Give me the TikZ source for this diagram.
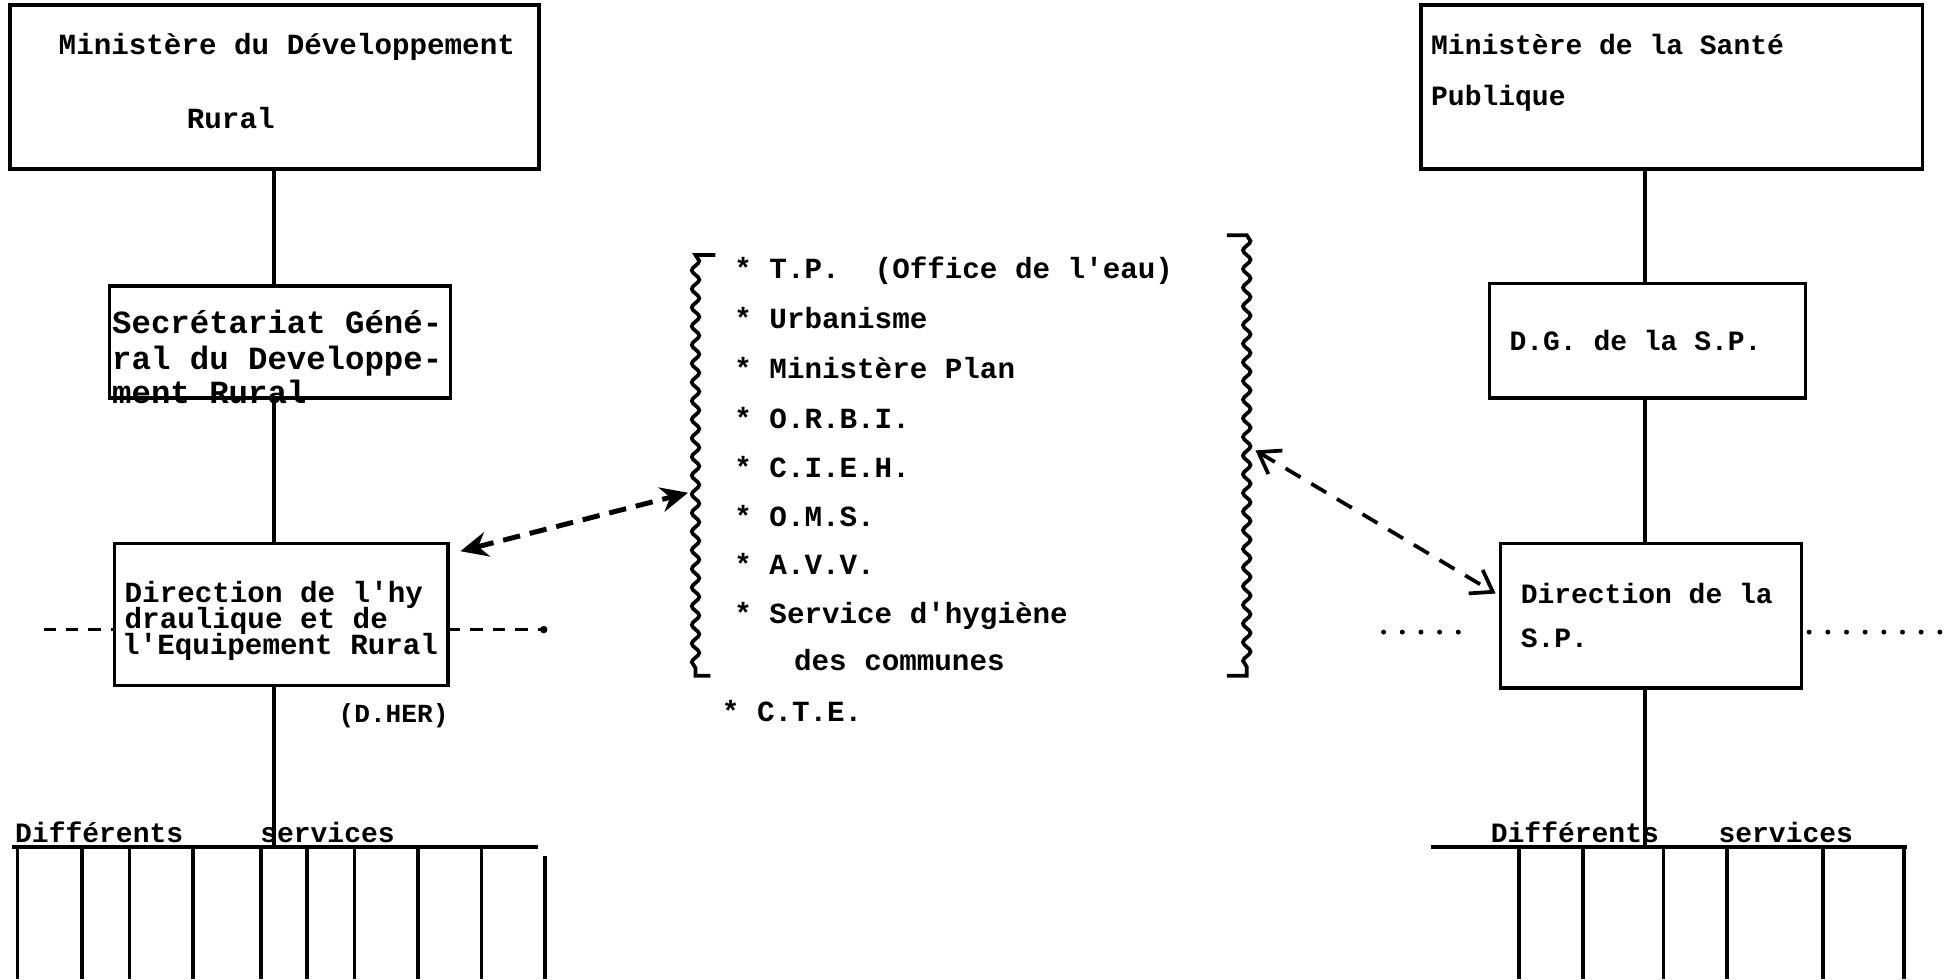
\documentclass[tikz,border=0pt]{standalone}
\usepackage{fontspec}
\setmonofont{Liberation Mono}
\usetikzlibrary{decorations.pathmorphing,arrows.meta}
\begin{document}
\begin{tikzpicture}[x=1pt,y=-1pt,
  box/.style={draw,line width=2.8pt,inner sep=0pt,outer sep=0pt},
  conn/.style={line width=3pt},
  txt/.style={font=\ttfamily\bfseries\fontsize{23.5}{24}\selectfont,anchor=base west,inner sep=0pt},
  txtB/.style={font=\ttfamily\bfseries\fontsize{26}{26}\selectfont,anchor=base west,inner sep=0pt},
  txtR/.style={font=\ttfamily\bfseries\fontsize{22.5}{22}\selectfont,anchor=base west,inner sep=0pt},
  wave/.style={decorate,decoration={snake,amplitude=3pt,segment length=15pt}},
  dashlink/.style={line width=3pt,dash pattern=on 10pt off 8pt},
  dotlink/.style={line width=4pt,line cap=round,dash pattern=on 0pt off 15pt},
  bigarrow/.style={line width=4pt,dash pattern=on 14pt off 8pt,{Stealth[length=22pt,width=20pt]}-{Stealth[length=22pt,width=20pt]}},
  barbarrow/.style={line width=3pt,dash pattern=on 14pt off 10pt,{Straight Barb[length=16pt,width=22pt]}-{Straight Barb[length=16pt,width=22pt]}}]
\useasboundingbox (0,0) rectangle (1568,787);

% ---------- left column ----------
\node[box,minimum width=425pt,minimum height=132pt] (A) at (220.5,70) {};
\node[txt] (tA1) at (47,44) {Ministère du Développement};
\node[txt] (tA2) at (150,103) {Rural};

\node[box,minimum width=274pt,minimum height=90pt] (B) at (225,275) {};
\node[txtB] (tB1) at (90,268) {Secrétariat Géné-};
\node[txtB] (tB2) at (90,297) {ral du Developpe-};
\node[txtB] (tB3) at (90,324) {ment Rural};

\node[box,minimum width=268pt,minimum height=114pt] (C) at (226,494) {};
\node[txt] (tC1) at (100,484) {Direction de l'hy};
\node[txt] (tC2) at (100,505) {draulique et de};
\node[txt] (tC3) at (98,526) {l'Equipement Rural};
\node[txt,font=\ttfamily\bfseries\fontsize{21}{21}\selectfont] (tC4) at (272,581) {(D.HER)};

\coordinate (busL) at (10,681);
\draw[conn] (A.south) -- (A.south |- B.north);
\draw[conn] (A.south |- B.south) -- (A.south |- C.north);
\draw[conn] (A.south |- C.south) -- (A.south |- busL);

\coordinate (dl) at (35,506);
\coordinate (dr) at (437,506);
\draw[dashlink] (dl) -- (C.west |- dl);
\draw[dashlink] (C.east |- dr) -- (dr);
\fill (dr) circle (3pt);

\node[txtR] (tL1) at (12,677) {Différents};
\node[txtR] (tL2) at (209,677) {services};
\draw[conn] (busL) -- (432,681);
\foreach \x in {14,66,104,155,210,247,285,336,387} \draw[conn] (\x,681) -- (\x,787);
\draw[conn] (438,688) -- (438,787);

% ---------- middle list ----------
\draw[line width=3pt] (575,205) -- (559,205) decorate[wave] {-- (559,543)} -- (571,543);
\draw[line width=3pt] (986,189) -- (1002,189) decorate[wave] {-- (1002,543)} -- (986,543);
\coordinate (Lb) at (553,396);
\coordinate (Rb) at (1009,362);

\node[txt] (m1) at (590,224) {* T.P.\ \ (Office de l'eau)};
\node[txt] (m2) at (590,264) {* Urbanisme};
\node[txt] (m3) at (590,304) {* Ministère Plan};
\node[txt] (m4) at (590,344) {* O.R.B.I.};
\node[txt] (m5) at (590,384) {* C.I.E.H.};
\node[txt] (m6) at (590,423) {* O.M.S.};
\node[txt] (m7) at (590,462) {* A.V.V.};
\node[txt] (m8) at (590,501) {* Service d'hygiène};
\node[txt] (m9) at (638,539) {des communes};
\node[txt] (m10) at (580,580) {* C.T.E.};

% ---------- right column ----------
\node[box,minimum width=403pt,minimum height=132pt] (D) at (1343.5,70) {};
\node[txtR] (tD1) at (1150,44) {Ministère de la Santé};
\node[txtR] (tD2) at (1150,85) {Publique};

\node[box,minimum width=254pt,minimum height=92pt] (E) at (1324,274) {};
\node[txtR] (tE1) at (1213,282) {D.G. de la S.P.};

\node[box,minimum width=242pt,minimum height=116pt] (F) at (1327,495) {};
\node[txtR] (tF1) at (1222,485) {Direction de la};
\node[txtR] (tF2) at (1222,520) {S.P.};

\coordinate (busR) at (1322,681);
\draw[conn] (busR |- E.north) -- (busR |- D.south);
\draw[conn] (busR |- E.south) -- (busR |- F.north);
\draw[conn] (busR |- F.south) -- (busR);

\coordinate (fl) at (1112,508);
\coordinate (fr) at (1562,508);
\draw[dotlink] (fl) -- ([xshift=-20pt]F.west |- fl);
\draw[dotlink] ([xshift=6pt]F.east |- fr) -- (fr);

\node[txtR] (tR1) at (1198,677) {Différents};
\node[txtR] (tR2) at (1381,677) {services};
\draw[conn] (1150,681) -- (1533,681);
\foreach \x in {1221,1272,1337,1388,1465,1530} \draw[conn] (\x,681) -- (\x,787);

% ---------- links ----------
\draw[bigarrow] ([shift={(10,6)}]C.north east) -- (Lb);
\draw[barbarrow] (Rb) -- ([shift={(-4,-18)}]F.west);
\end{tikzpicture}
\end{document}
